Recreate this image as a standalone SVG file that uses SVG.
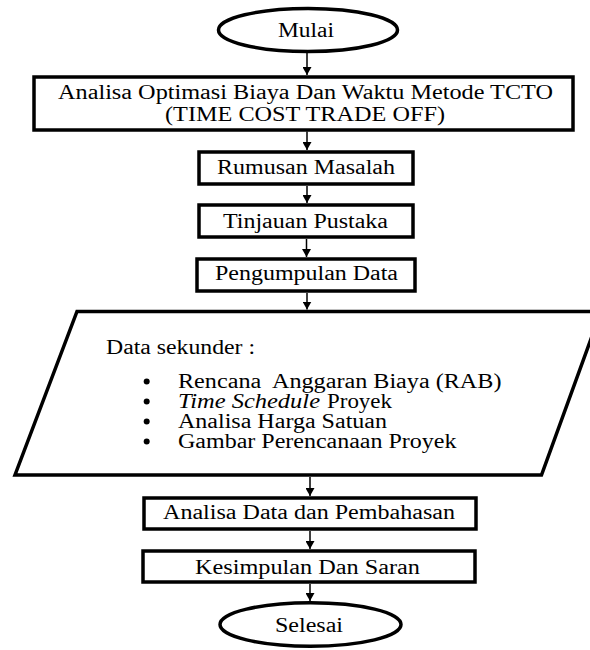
<svg xmlns="http://www.w3.org/2000/svg" width="590" height="650" viewBox="0 0 590 650">
<style>
.shape{fill:#fff;stroke:#000;stroke-width:3.5;stroke-linejoin:miter}
.t{font-family:"Times New Roman","Liberation Serif","DejaVu Serif",serif;font-size:20px;fill:#000}
.c{text-anchor:middle}
.conn line{stroke:#000;stroke-width:1.5;marker-end:url(#ah)}
</style>
<defs>
<marker id="ah" markerUnits="userSpaceOnUse" markerWidth="10" markerHeight="9" refX="8" refY="4.5" orient="auto">
<path d="M0,0 L8,4.5 L0,9 z" fill="#000"/>
</marker>
</defs>
<rect width="590" height="650" fill="#fff"/>
<g id="connectors" class="conn">
<line x1="307" y1="53" x2="307" y2="75"/>
<line x1="307" y1="131.5" x2="307" y2="150"/>
<line x1="307" y1="186" x2="307" y2="203"/>
<line x1="306.5" y1="239" x2="306.5" y2="257"/>
<line x1="307" y1="293" x2="307" y2="309.5"/>
<line x1="310" y1="477" x2="310" y2="496"/>
<line x1="310" y1="531" x2="310" y2="549"/>
<line x1="310" y1="584" x2="310" y2="601"/>
</g>
<g id="mulai">
<ellipse class="shape" cx="308" cy="30" rx="89.5" ry="21.5"/>
<text class="t c" x="306" y="36.5" textLength="56" lengthAdjust="spacingAndGlyphs">Mulai</text>
</g>
<g id="analisa-optimasi">
<rect class="shape" x="34" y="77" width="539" height="53"/>
<text class="t c" x="305.5" y="99" textLength="495" lengthAdjust="spacingAndGlyphs">Analisa Optimasi Biaya Dan Waktu Metode TCTO</text>
<text class="t c" x="305" y="120.5" textLength="280" lengthAdjust="spacingAndGlyphs">(TIME COST TRADE OFF)</text>
</g>
<g id="rumusan-masalah">
<rect class="shape" x="199" y="152" width="214" height="32"/>
<text class="t c" x="306" y="173.5" textLength="178" lengthAdjust="spacingAndGlyphs">Rumusan Masalah</text>
</g>
<g id="tinjauan-pustaka">
<rect class="shape" x="199" y="205" width="214" height="32"/>
<text class="t c" x="305.5" y="227.5" textLength="165" lengthAdjust="spacingAndGlyphs">Tinjauan Pustaka</text>
</g>
<g id="pengumpulan-data">
<rect class="shape" x="197" y="259" width="218" height="32"/>
<text class="t c" x="306.5" y="280" textLength="183" lengthAdjust="spacingAndGlyphs">Pengumpulan Data</text>
</g>
<g id="data-sekunder">
<polygon class="shape" points="77,311.5 601,311.5 541.5,475 15,475"/>
<text class="t" x="106" y="353.5" textLength="149" lengthAdjust="spacingAndGlyphs">Data sekunder :</text>
<circle cx="146.7" cy="381.5" r="3"/>
<circle cx="146.7" cy="401.5" r="3"/>
<circle cx="146.7" cy="421.5" r="3"/>
<circle cx="146.7" cy="441.5" r="3"/>
<text class="t" x="178" y="387.5" textLength="323.5" lengthAdjust="spacingAndGlyphs" xml:space="preserve">Rencana  Anggaran Biaya (RAB)</text>
<text class="t" y="407.5"><tspan x="178" font-style="italic" textLength="142" lengthAdjust="spacingAndGlyphs">Time Schedule</tspan><tspan x="327" textLength="65" lengthAdjust="spacingAndGlyphs">Proyek</tspan></text>
<text class="t" x="178" y="427.5" textLength="209" lengthAdjust="spacingAndGlyphs">Analisa Harga Satuan</text>
<text class="t" x="178" y="447.5" textLength="278.5" lengthAdjust="spacingAndGlyphs">Gambar Perencanaan Proyek</text>
</g>
<g id="analisa-data">
<rect class="shape" x="144" y="498" width="332" height="31"/>
<text class="t c" x="309" y="518.5" textLength="292" lengthAdjust="spacingAndGlyphs">Analisa Data dan Pembahasan</text>
</g>
<g id="kesimpulan">
<rect class="shape" x="143" y="551" width="332" height="31"/>
<text class="t c" x="307.5" y="573.5" textLength="225" lengthAdjust="spacingAndGlyphs">Kesimpulan Dan Saran</text>
</g>
<g id="selesai">
<ellipse class="shape" cx="310.5" cy="624.5" rx="90.5" ry="21.7"/>
<text class="t c" x="309" y="632" textLength="68" lengthAdjust="spacingAndGlyphs">Selesai</text>
</g>
</svg>
